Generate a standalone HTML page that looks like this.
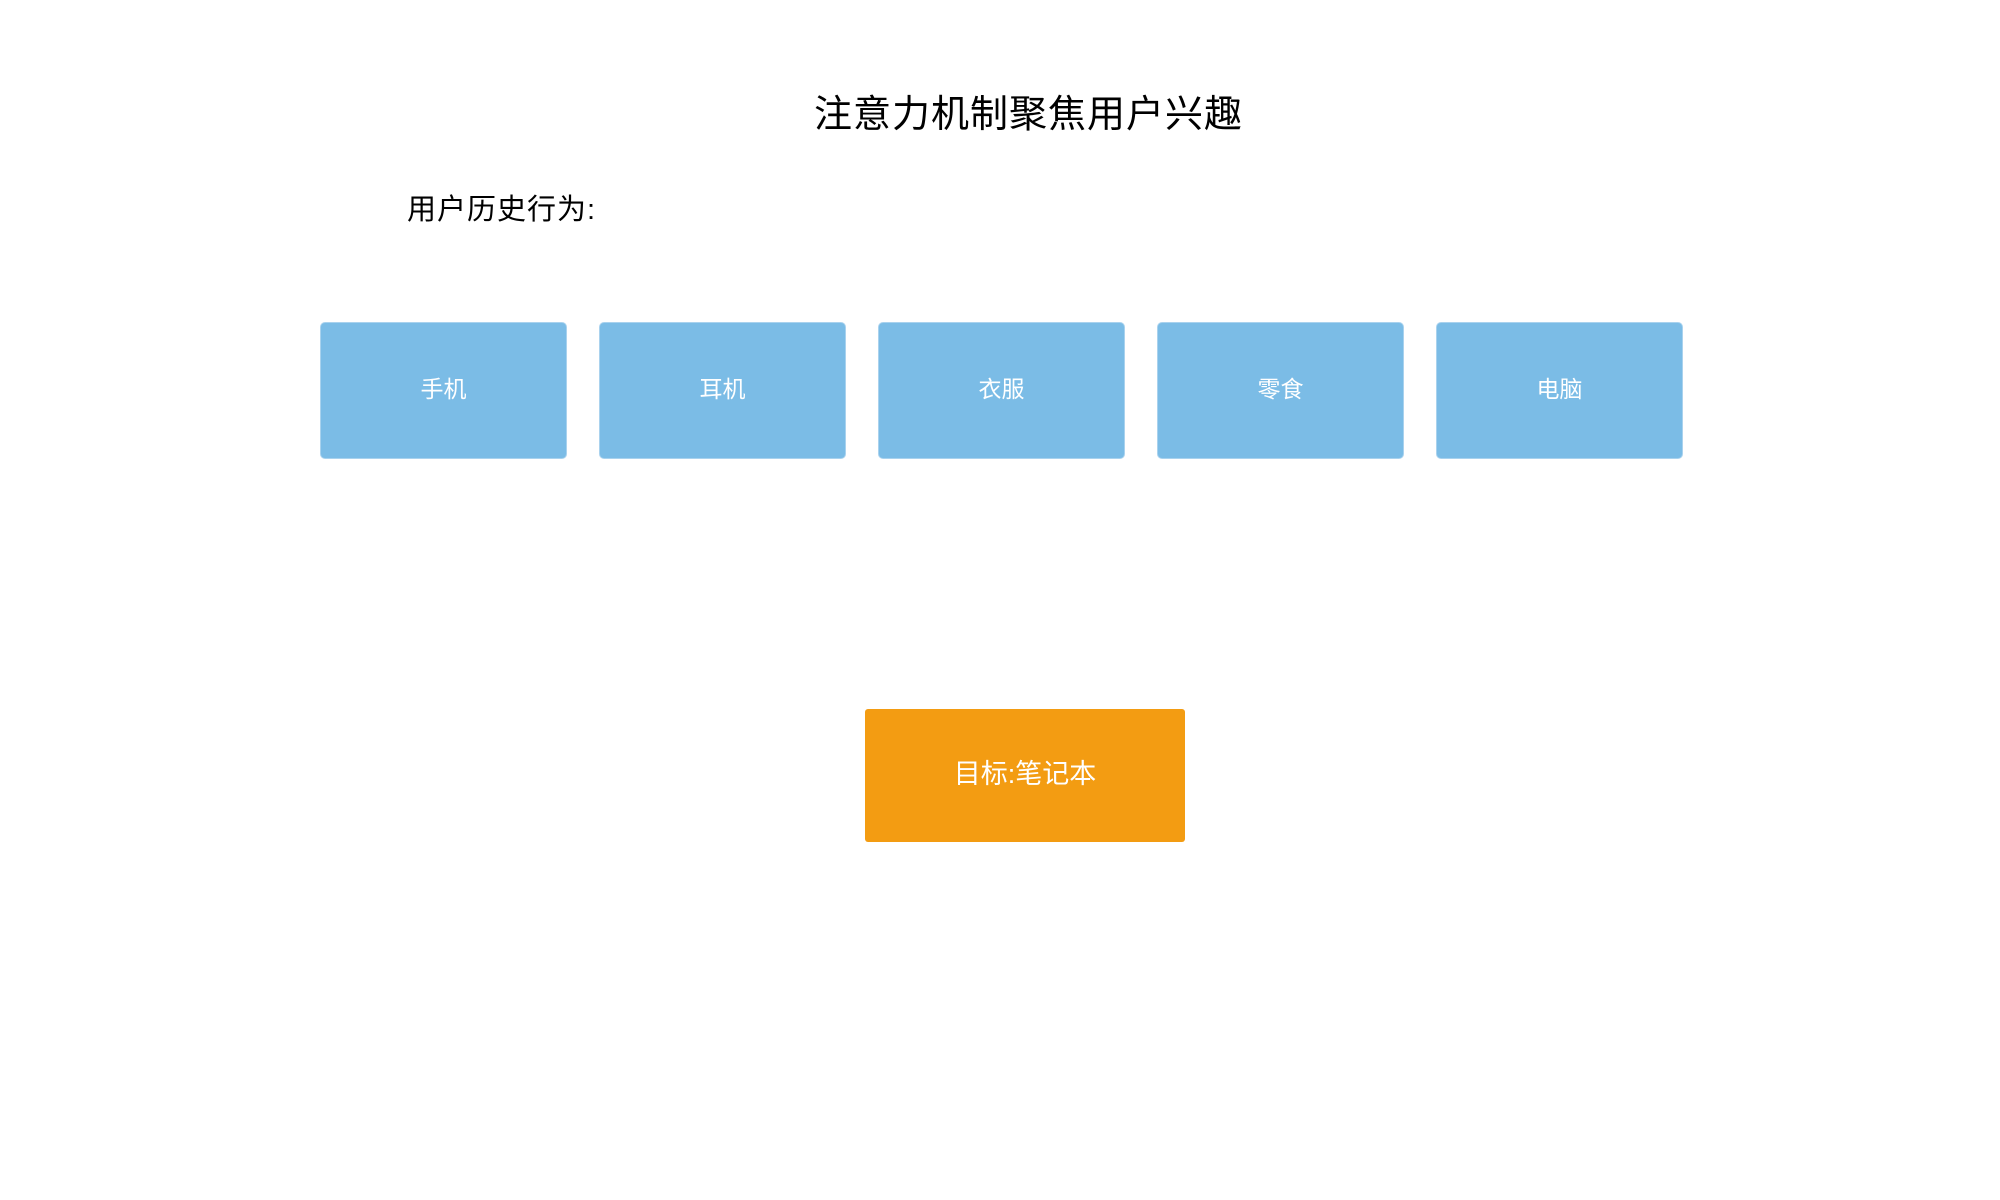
<!DOCTYPE html>
<html><head><meta charset="utf-8"><style>
body{margin:0;width:2000px;height:1200px;background:#fff;position:relative;overflow:hidden;font-family:"Liberation Sans","Noto Sans CJK SC",sans-serif}
.t{position:absolute;white-space:nowrap;color:#000}
.b{position:absolute;top:322px;width:247px;height:137px;background:#7BBCE6;border:1px solid #a9d2ee;border-radius:5px;box-sizing:border-box;color:#fff;font-size:23px;display:flex;align-items:center;justify-content:center;padding-bottom:8px}
.o{position:absolute;left:865px;top:709px;width:320px;height:133px;background:#F39C12;border-radius:3px;color:#fff;font-size:27px;display:flex;align-items:center;justify-content:center;padding-bottom:8px;box-sizing:border-box}
</style></head><body>
<div class="t" style="left:814px;top:83px;font-size:38px;letter-spacing:1px">注意力机制聚焦用户兴趣</div>
<div class="t" style="left:407px;top:186px;font-size:29px;letter-spacing:1px">用户历史行为:</div>
<div class="b" style="left:320px">手机</div>
<div class="b" style="left:599px">耳机</div>
<div class="b" style="left:878px">衣服</div>
<div class="b" style="left:1157px">零食</div>
<div class="b" style="left:1436px">电脑</div>
<div class="o">目标:笔记本</div>
</body></html>
